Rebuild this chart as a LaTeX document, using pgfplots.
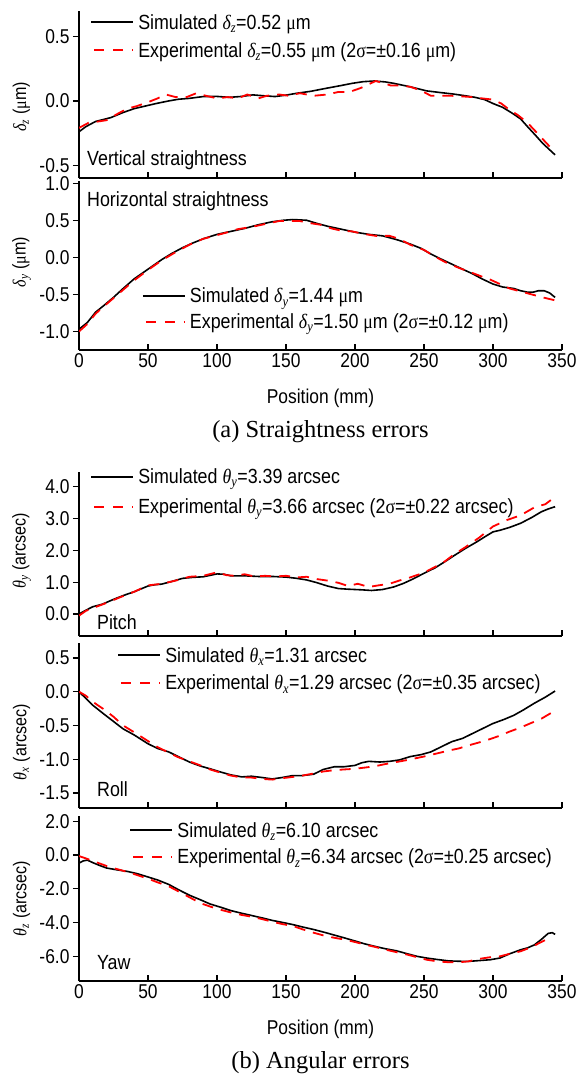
\documentclass[border=0pt]{standalone}
\usepackage{fontspec}
\setmainfont{Liberation Sans}[FakeStretch=0.87]
\newfontfamily\serif{Liberation Serif}
\newfontfamily\serifn{Liberation Serif}[FakeStretch=0.87]
\usepackage{pgfplots}
\pgfplotsset{compat=1.18}

\newcommand{\gsym}[2]{{\serifn\itshape #1}\textsubscript{\serifn\itshape #2}}
\newcommand{\mum}{{\serifn μ}m}
\newcommand{\sig}{{\serifn σ}}
\newcommand{\fs}{\fontsize{20}{23}\selectfont}
\newcommand{\fl}{\fontsize{20.5}{23}\selectfont}
\newcommand{\ft}{\fontsize{20}{23}\selectfont}

\tikzset{
 lab/.style={font=\fl, inner sep=0pt},
 sim/.style={black, line width=1.6pt},
 exp/.style={red, line width=1.8pt, dash pattern=on 11pt off 8pt},
 simkey/.style={black, line width=1.8pt},
 expkey/.style={red, line width=1.8pt, dash pattern=on 10pt off 9pt, dash phase=-3pt},
 legtext/.style={font=\fl, inner sep=0pt, anchor=base west, xshift=47pt, yshift=-7pt},
}
% legend key: #1 = rel x, #2 = rel y (row 1), #3 = rel y (row 2), #4 = row 1 text, #5 = row 2 text
\newcommand{\legendpair}[5]{%
  \draw[simkey] (rel axis cs:#1,#2) -- ++(42pt,0pt);
  \node[legtext] at (rel axis cs:#1,#2) {#4};
  \draw[expkey] (rel axis cs:#1,#3) -- ++(42pt,0pt);
  \node[legtext] at (rel axis cs:#1,#3) {#5};
}
\pgfplotsset{
 myaxis/.style={
  scale only axis, width=483pt, xmin=0, xmax=350,
  clip mode=individual,
  axis x line*=bottom, axis y line*=left,
  xtick={0,50,...,350},
  xtick align=inside, ytick align=outside,
  major tick length=6pt,
  axis line style={line width=1.5pt},
  every tick/.style={line width=1.3pt, black},
  tick label style={font=\ft},
  /pgf/number format/assume math mode=true,
  yticklabel style={/pgf/number format/.cd, fixed, fixed zerofill, precision=1},
  ylabel style={font=\fontsize{18.5}{21}\selectfont, anchor=center},
  xlabel style={font=\fs, at={(axis description cs:0.5,0)}, anchor=center, yshift=-48pt},
  every axis plot/.append style={line join=round},
 },
}

\begin{document}
\begin{tikzpicture}
\path[use as bounding box] (0pt,0pt) rectangle (578pt,-1076pt);

% ---------- Panel 1: vertical straightness
\begin{axis}[myaxis, at={(79pt,-11pt)}, anchor=north west, height=167pt,
  ymin=-0.6, ymax=0.7, ytick={-0.5,0,0.5}, xticklabels={},
  ylabel={\gsym{δ}{z} (\mum)},
  ylabel style={at={(axis description cs:-0.119,0.425)}}]
\addplot[sim] table {
0 -0.24
5 -0.2
12 -0.16
23 -0.13
32 -0.09
40 -0.06
50 -0.035
56 -0.02
65 0.0
72 0.013
80 0.02
90 0.034
100 0.035
109 0.028
118 0.035
126 0.047
134 0.04
142 0.034
150 0.045
158 0.06
168 0.075
179 0.098
190 0.12
198 0.137
206 0.15
214 0.155
222 0.148
228 0.137
240 0.11
252 0.078
262 0.065
271 0.054
280 0.04
287 0.028
294 0.01
300 -0.02
307 -0.05
314 -0.096
320 -0.14
325 -0.2
331 -0.27
336 -0.33
341 -0.38
345 -0.42
};
\addplot[exp] table {
0 -0.21
7 -0.17
14 -0.16
20 -0.15
28 -0.1
35 -0.06
42 -0.04
50 -0.01
57 0.02
63 0.05
70 0.03
78 0.03
85 0.06
92 0.04
100 0.02
108 0.03
115 0.02
122 0.05
130 0.02
136 0.04
145 0.05
152 0.04
160 0.06
170 0.04
180 0.05
188 0.07
196 0.07
204 0.1
210 0.13
215 0.155
220 0.14
226 0.12
233 0.12
240 0.11
248 0.08
255 0.04
262 0.04
270 0.04
278 0.035
285 0.03
292 0.02
300 0.01
306 -0.02
312 -0.07
318 -0.11
325 -0.17
332 -0.25
338 -0.32
345 -0.4
};
\legendpair{0.025}{0.934}{0.766}{Simulated \gsym{δ}{z}=0.52 \mum}{Experimental \gsym{δ}{z}=0.55 \mum{} (2\sig=±0.16 \mum)}
\node[lab, anchor=west] at (axis cs:5.8,-0.46) {Vertical straightness};
\end{axis}

% ---------- Panel 2: horizontal straightness
\begin{axis}[myaxis, at={(79pt,-181pt)}, anchor=north west, height=169pt,
  ymin=-1.25, ymax=1.03, ytick={-1,-0.5,0,0.5,1},
  ylabel={\gsym{δ}{y} (\mum)},
  ylabel style={at={(axis description cs:-0.119,0.52)}},
  xlabel={Position (mm)}]
\addplot[sim] table {
0 -0.97
6 -0.88
12 -0.74
18 -0.65
25 -0.54
32 -0.42
40 -0.29
50 -0.16
60 -0.03
67 0.05
75 0.13
82 0.19
90 0.25
100 0.31
110 0.35
120 0.39
130 0.44
140 0.48
148 0.5
155 0.51
165 0.5
172 0.46
180 0.42
190 0.38
200 0.34
210 0.31
220 0.29
230 0.24
240 0.18
248 0.12
255 0.045
262 -0.02
270 -0.09
278 -0.16
285 -0.22
292 -0.29
300 -0.36
307 -0.4
315 -0.42
320 -0.45
325 -0.47
329 -0.47
333 -0.45
337 -0.45
341 -0.48
345 -0.54
};
\addplot[exp] table {
0 -1.0
6 -0.9
12 -0.76
20 -0.63
30 -0.47
40 -0.31
50 -0.17
60 -0.04
70 0.07
80 0.17
90 0.25
100 0.3
108 0.34
115 0.38
125 0.41
135 0.45
145 0.49
152 0.49
160 0.49
168 0.46
175 0.44
183 0.39
190 0.36
198 0.35
205 0.32
215 0.29
225 0.29
232 0.25
240 0.17
250 0.1
258 0.01
266 -0.07
275 -0.14
285 -0.21
292 -0.26
298 -0.3
305 -0.36
312 -0.42
320 -0.46
328 -0.5
336 -0.54
345 -0.58
};
\legendpair{0.132}{0.320}{0.167}{Simulated \gsym{δ}{y}=1.44 \mum}{Experimental \gsym{δ}{y}=1.50 \mum{} (2\sig=±0.12 \mum)}
\node[lab, anchor=west] at (axis cs:5.8,0.76) {Horizontal straightness};
\node[font=\serif\fontsize{24.5}{27}\selectfont, anchor=center] at (rel axis cs:0.5,0) [yshift=-82pt] {(a) Straightness errors};
\end{axis}

% ---------- Panel 3: pitch
\begin{axis}[myaxis, at={(79pt,-472pt)}, anchor=north west, height=164pt,
  ymin=-0.69, ymax=4.46, ytick={0,1,2,3,4}, xticklabels={},
  ylabel={\gsym{θ}{y} (arcsec)},
  ylabel style={at={(axis description cs:-0.119,0.52)}}]
\addplot[sim] table {
0 0.0
5 0.12
10 0.23
17 0.31
25 0.46
32 0.58
40 0.7
50 0.88
55 0.92
60 0.94
67 1.02
75 1.12
82 1.15
90 1.17
100 1.26
105 1.25
110 1.2
120 1.2
130 1.18
140 1.18
150 1.16
158 1.12
165 1.07
172 0.99
180 0.88
188 0.8
195 0.78
205 0.76
212 0.74
220 0.77
228 0.85
235 0.96
242 1.1
250 1.28
258 1.45
265 1.64
272 1.84
280 2.06
288 2.26
295 2.45
300 2.58
305 2.63
312 2.72
320 2.85
328 3.03
335 3.21
340 3.3
345 3.37
};
\addplot[exp] table {
0 -0.05
5 0.1
12 0.22
20 0.35
30 0.53
40 0.7
50 0.9
60 0.95
70 1.05
80 1.17
90 1.2
100 1.31
107 1.22
113 1.2
120 1.25
127 1.18
135 1.2
142 1.18
150 1.2
158 1.15
165 1.17
172 1.1
180 1.05
188 0.98
195 0.88
202 0.95
210 0.85
217 0.9
225 0.95
232 1.05
240 1.15
250 1.3
258 1.48
265 1.65
272 1.88
280 2.1
290 2.4
300 2.75
310 2.95
320 3.1
330 3.35
338 3.45
345 3.68
};
\legendpair{0.025}{0.971}{0.788}{Simulated \gsym{θ}{y}=3.39 arcsec}{Experimental \gsym{θ}{y}=3.66 arcsec (2\sig=±0.22 arcsec)}
\node[lab, anchor=west] at (axis cs:13,-0.27) {Pitch};
\end{axis}

% ---------- Panel 4: roll
\begin{axis}[myaxis, at={(79pt,-643pt)}, anchor=north west, height=165pt,
  ymin=-1.72, ymax=0.72, ytick={-1.5,-1,-0.5,0,0.5}, xticklabels={},
  ylabel={\gsym{θ}{x} (arcsec)},
  ylabel style={at={(axis description cs:-0.119,0.40)}}]
\addplot[sim] table {
0 0.0
5 -0.1
10 -0.2
18 -0.33
25 -0.44
32 -0.55
40 -0.64
50 -0.77
57 -0.84
65 -0.89
72 -0.96
80 -1.04
88 -1.1
95 -1.14
103 -1.19
110 -1.23
118 -1.26
125 -1.25
133 -1.27
140 -1.29
147 -1.27
155 -1.24
162 -1.24
170 -1.22
177 -1.15
185 -1.11
192 -1.11
200 -1.09
205 -1.05
210 -1.03
218 -1.04
225 -1.03
232 -1.01
240 -0.96
248 -0.93
255 -0.89
262 -0.82
270 -0.74
278 -0.69
285 -0.62
292 -0.55
300 -0.47
308 -0.41
315 -0.35
322 -0.27
330 -0.17
338 -0.08
345 0.01
};
\addplot[exp] table {
0 0.0
5 -0.06
10 -0.15
18 -0.26
25 -0.37
32 -0.5
40 -0.6
50 -0.73
57 -0.82
65 -0.9
72 -0.97
80 -1.03
88 -1.09
95 -1.15
103 -1.2
110 -1.24
118 -1.27
125 -1.27
133 -1.29
140 -1.3
147 -1.28
155 -1.26
162 -1.24
170 -1.21
177 -1.18
185 -1.16
192 -1.15
200 -1.14
208 -1.12
215 -1.1
222 -1.07
230 -1.04
238 -1.01
245 -0.98
252 -0.95
260 -0.91
268 -0.87
275 -0.84
283 -0.79
290 -0.75
298 -0.7
305 -0.65
312 -0.59
320 -0.53
328 -0.46
335 -0.4
340 -0.34
345 -0.28
};
\legendpair{0.081}{0.927}{0.758}{Simulated \gsym{θ}{x}=1.31 arcsec}{Experimental \gsym{θ}{x}=1.29 arcsec (2\sig=±0.35 arcsec)}
\node[lab, anchor=west] at (axis cs:13,-1.44) {Roll};
\end{axis}

% ---------- Panel 5: yaw
\begin{axis}[myaxis, at={(79pt,-816pt)}, anchor=north west, height=165pt,
  ymin=-7.46, ymax=2.31, ytick={-6,-4,-2,0,2},
  ylabel={\gsym{θ}{z} (arcsec)},
  ylabel style={at={(axis description cs:-0.119,0.5)}},
  xlabel={Position (mm)}]
\addplot[sim] table {
0 -0.48
3 -0.35
6 -0.3
10 -0.45
15 -0.62
20 -0.77
27 -0.87
35 -0.97
42 -1.1
50 -1.3
57 -1.48
65 -1.74
72 -2.05
80 -2.38
88 -2.65
95 -2.9
103 -3.1
110 -3.29
118 -3.45
125 -3.58
133 -3.73
140 -3.87
148 -4.0
155 -4.12
162 -4.26
170 -4.41
178 -4.58
185 -4.74
192 -4.9
200 -5.09
207 -5.26
215 -5.42
222 -5.55
230 -5.67
238 -5.85
245 -6.0
252 -6.1
260 -6.19
268 -6.27
275 -6.29
282 -6.3
290 -6.25
298 -6.2
305 -6.1
312 -5.85
320 -5.61
325 -5.5
330 -5.32
335 -5.0
340 -4.64
343 -4.6
345 -4.7
};
\addplot[exp] table {
0 -0.06
5 -0.2
10 -0.35
20 -0.65
27 -0.82
35 -1.0
42 -1.18
50 -1.4
57 -1.62
65 -1.85
72 -2.15
80 -2.5
88 -2.85
95 -3.05
103 -3.25
110 -3.4
118 -3.55
125 -3.65
133 -3.8
140 -3.95
148 -4.1
155 -4.2
162 -4.4
170 -4.6
178 -4.78
185 -4.9
192 -5.0
200 -5.15
207 -5.3
215 -5.45
222 -5.6
230 -5.75
238 -5.9
245 -6.05
252 -6.2
260 -6.3
268 -6.35
275 -6.35
282 -6.3
290 -6.15
298 -6.05
305 -6.0
312 -5.85
320 -5.7
328 -5.45
335 -5.15
340 -4.95
};
\legendpair{0.106}{0.915}{0.752}{Simulated \gsym{θ}{z}=6.10 arcsec}{Experimental \gsym{θ}{z}=6.34 arcsec (2\sig=±0.25 arcsec)}
\node[lab, anchor=west] at (axis cs:13,-6.35) {Yaw};
\node[font=\serif\fontsize{24.5}{27}\selectfont, anchor=center] at (rel axis cs:0.5,0) [yshift=-82pt] {(b) Angular errors};
\end{axis}
\end{tikzpicture}
\end{document}
